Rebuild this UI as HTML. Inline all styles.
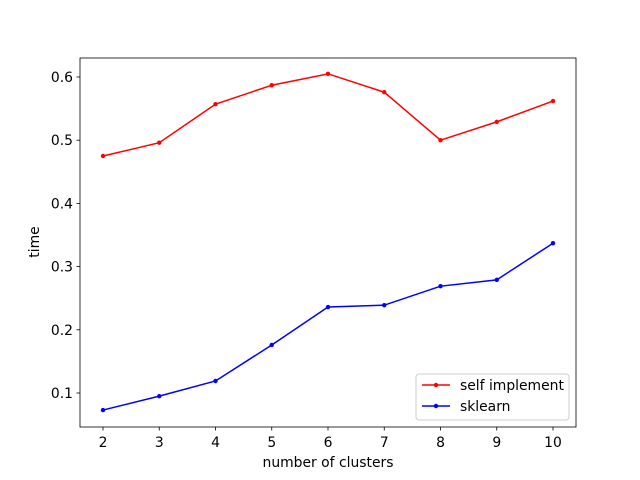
<!DOCTYPE html>
<html><head><meta charset="utf-8"><style>body{margin:0;background:#fff}svg{display:block;font-family:"DejaVu Sans","Liberation Sans",sans-serif}</style></head>
<body>
<svg id="chart" width="640" height="480">
<rect x="0" y="0" width="640" height="480" fill="#fff"/>
<g id="plot"></g>
</svg>
<script>
const categories=[2,3,4,5,6,7,8,9,10];
const selfImplement=[0.475,0.496,0.557,0.587,0.605,0.576,0.500,0.529,0.562];
const sklearn=[0.073,0.095,0.119,0.176,0.236,0.239,0.269,0.279,0.337];
const yTicks=[0.1,0.2,0.3,0.4,0.5,0.6];
const yTickLabels=["0.1","0.2","0.3","0.4","0.5","0.6"];
const NS="http://www.w3.org/2000/svg";
const g=document.getElementById('plot');
const L=80,R=576,T=58,B=427;
const FS=13.9;
const xs=v=>103+(v-2)*56.25;
const ys=v=>393-(v-0.1)*632;
function mk(t,a,p){const e=document.createElementNS(NS,t);for(const k in a)e.setAttribute(k,a[k]);(p||g).appendChild(e);return e;}
for(const c of categories){const x=xs(c);
const t=mk('line',{x1:x,x2:x,y1:B,y2:B+3.5,stroke:'#000','stroke-width':0.8});


const l=mk('text',{x:x,y:B+20,'font-size':FS,'text-anchor':'middle'});l.textContent=c;

}
yTicks.forEach((v,i)=>{const y=ys(v);
const t=mk('line',{x1:L-3.5,x2:L,y1:y,y2:y,stroke:'#000','stroke-width':0.8});


const l=mk('text',{x:L-7,y:y+5,'font-size':FS,'text-anchor':'end'});l.textContent=yTickLabels[i];

});
function series(vals,color,name){
const p=mk('polyline',{points:vals.map((v,i)=>xs(categories[i])+','+ys(v)).join(' '),fill:'none',stroke:color,'stroke-width':1.5});


vals.forEach((v,i)=>{const c=mk('circle',{cx:xs(categories[i]),cy:ys(v),r:2.2,fill:color});

});}
series(selfImplement,'#ff0000','self-implement');
series(sklearn,'#0000ff','sklearn');
const fr=mk('rect',{x:L,y:T,width:R-L,height:B-T,fill:'none',stroke:'#000','stroke-width':0.8});


const xt=mk('text',{x:(L+R)/2,y:467,'font-size':FS,'text-anchor':'middle'});xt.textContent='number of clusters';


const yt=mk('text',{x:0,y:0,'font-size':FS,'text-anchor':'middle',transform:'translate(39,242) rotate(-90)'});yt.textContent='time';


const lg=mk('g',{});


mk('rect',{x:416,y:374,width:153,height:46,rx:3,fill:'#fff',stroke:'#ccc','stroke-width':1},lg);
[['self implement','#ff0000',385],['sklearn','#0000ff',406]].forEach(([n,c,y])=>{
mk('line',{x1:422,x2:450,y1:y,y2:y,stroke:c,'stroke-width':1.5},lg);
mk('circle',{cx:436,cy:y,r:2.2,fill:c},lg);
const t=mk('text',{x:460,y:y+5,'font-size':FS},lg);t.textContent=n;

});
</script>
</body></html>
